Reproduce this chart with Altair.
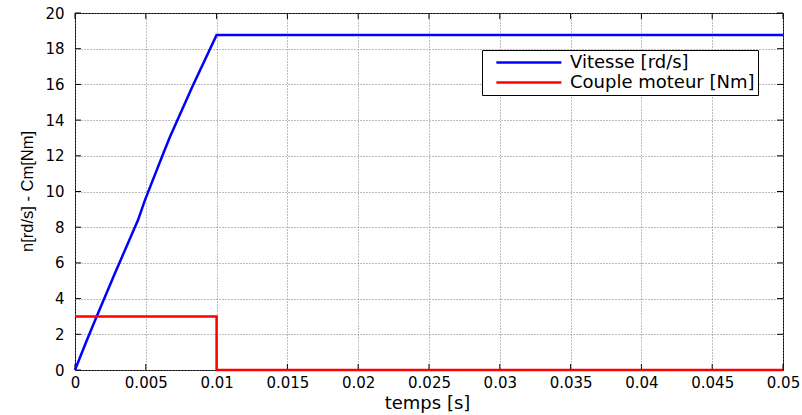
import altair as alt
import pandas as pd

# ---- data ----
t_speed = [0, 0.0008, 0.00153, 0.00282, 0.00445, 0.00494, 0.00624, 0.00671, 0.0083, 0.01, 0.05]
speed = [0, 1.6, 3.0, 5.42, 8.4, 9.52, 12.14, 13.07, 15.9, 18.77, 18.77]

t_torque = [0, 0.01, 0.01, 0.05]
torque = [3, 3, 0, 0]

series_names = ["Vitesse [rd/s]", "Couple moteur [Nm]"]
series_colors = ["#0000FF", "#FF0000"]

x_ticks = [0, 0.005, 0.01, 0.015, 0.02, 0.025, 0.03, 0.035, 0.04, 0.045, 0.05]
y_ticks = [0, 2, 4, 6, 8, 10, 12, 14, 16, 18, 20]

# ---- tables ----
rows = []
for i, (t, v) in enumerate(zip(t_speed, speed)):
    rows.append({"t": t, "v": v, "series": series_names[0], "order": i})
for i, (t, v) in enumerate(zip(t_torque, torque)):
    rows.append({"t": t, "v": v, "series": series_names[1], "order": i})
df = pd.DataFrame(rows)

xt_bottom = pd.DataFrame({"t": x_ticks, "v": [y_ticks[0]] * len(x_ticks)})
xt_top = pd.DataFrame({"t": x_ticks, "v": [y_ticks[-1]] * len(x_ticks)})
yt_left = pd.DataFrame({"t": [x_ticks[0]] * len(y_ticks), "v": y_ticks})
yt_right = pd.DataFrame({"t": [x_ticks[-1]] * len(y_ticks), "v": y_ticks})

x_scale = alt.Scale(domain=[x_ticks[0], x_ticks[-1]], nice=False, zero=False)
y_scale = alt.Scale(domain=[y_ticks[0], y_ticks[-1]], nice=False)

x_axis = alt.Axis(
    values=x_ticks, format="~g", title="temps [s]",
    labelFont="DejaVu Sans", labelFontSize=15, labelColor="#000000",
    labelPadding=5, labelOverlap=False, labelFlush=False, labelBound=False,
    titleFont="DejaVu Sans", titleFontSize=18, titleFontWeight="normal", titleColor="#000000",
    titleX=352, titleY=38, titleBaseline="alphabetic", titleAnchor="start", titleAlign="center",
    ticks=False, domain=False,
    grid=True, gridColor="#7a7a7a", gridDash=[1, 2], gridWidth=1, gridOpacity=1,
)
y_axis = alt.Axis(
    values=y_ticks, title="n[rd/s] - Cm[Nm]",
    labelFont="DejaVu Sans", labelFontSize=15, labelColor="#000000",
    labelPadding=11, labelOverlap=False, labelFlush=False,
    titleFont="Liberation Sans", titleFontSize=16.5,
    titleFontWeight="normal", titleColor="#000000",
    titleX=-48, titleY=178, titleAngle=270, titleAlign="center", titleBaseline="middle",
    ticks=False, domain=False,
    grid=True, gridColor="#7a7a7a", gridDash=[1, 2], gridWidth=1, gridOpacity=1,
)

X = alt.X("t:Q", scale=x_scale, axis=x_axis)
Y = alt.Y("v:Q", scale=y_scale, axis=y_axis)

lines = alt.Chart(df).mark_line(strokeWidth=2.5).encode(
    x=X,
    y=Y,
    color=alt.Color(
        "series:N",
        scale=alt.Scale(domain=series_names, range=series_colors),
        sort=series_names,
        legend=alt.Legend(title=None),
    ),
    order="order:Q",
)

tick_len = 6
def ticks(data, orient, dx=0, dy=0):
    return alt.Chart(data).mark_tick(
        size=tick_len, thickness=1, color="#000000", opacity=1,
        orient=orient, xOffset=dx, yOffset=dy,
    ).encode(x=X, y=Y)

layers = [
    ticks(xt_bottom, "vertical", dy=-tick_len / 2),
    ticks(xt_top, "vertical", dy=tick_len / 2),
    ticks(yt_left, "horizontal", dx=tick_len / 2),
    ticks(yt_right, "horizontal", dx=-tick_len / 2),
    lines,
]

chart = alt.layer(*layers).properties(
    width=708, height=357,
    autosize=alt.AutoSizeParams(type="none"),
    padding={"left": 75, "top": 13, "right": 19, "bottom": 45},
    background="#ffffff",
).configure_view(
    stroke="#000000", strokeWidth=1,
).configure_legend(
    orient="none", legendX=407, legendY=37,
    strokeColor="#000000", fillColor="#ffffff", padding=3,
    symbolType="M-1,0L7,0", symbolSize=264, symbolStrokeWidth=2.5,
    symbolOffset=10, labelOffset=56, rowPadding=1, labelLimit=400,
    labelFont="DejaVu Sans", labelFontSize=18, labelColor="#000000",
    cornerRadius=0,
)

chart.save("out.html", embed_options={"renderer": "svg", "actions": False})
